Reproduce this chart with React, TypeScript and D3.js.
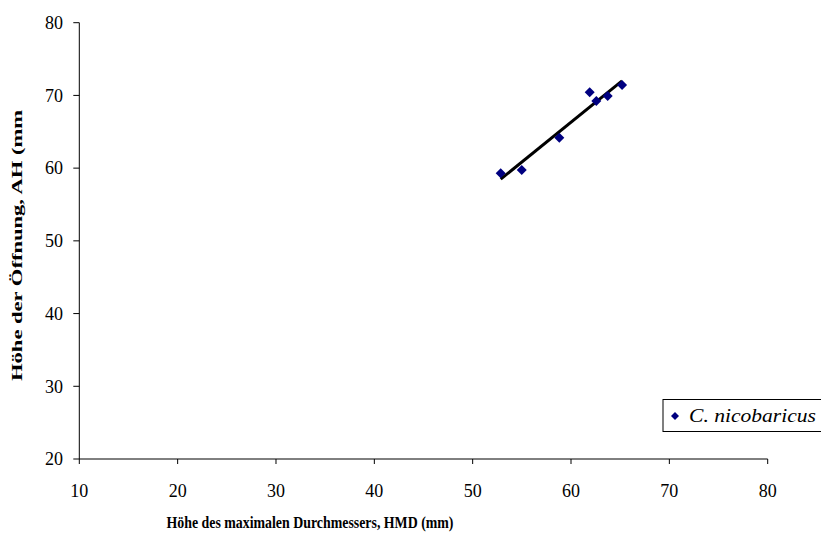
import React from "react";
import * as d3 from "d3";

const hmd = [52.85, 54.99, 58.81, 61.9, 62.57, 63.73, 65.19];
const ah = [59.29, 59.74, 64.18, 70.43, 69.23, 69.92, 71.43];
const xTicks = [10, 20, 30, 40, 50, 60, 70, 80];
const yTicks = [20, 30, 40, 50, 60, 70, 80];
const seriesName = "C. nicobaricus";
const xTitle = "Höhe des maximalen Durchmessers, HMD  (mm)";
const yTitle = "Höhe der Öffnung, AH (mm";

export default function App() {
  const W = 821, H = 538;
  const x = d3.scaleLinear().domain([10, 80]).range([79.3, 767.7]);
  const y = d3.scaleLinear().domain([20, 80]).range([459, 22.7]);
  const ts: React.CSSProperties = { fontFamily: "'Liberation Serif', 'Times New Roman', serif" };

  const mx = d3.mean(hmd)!, my = d3.mean(ah)!;
  let sxy = 0, sxx = 0;
  hmd.forEach((v, i) => { sxy += (v - mx) * (ah[i] - my); sxx += (v - mx) ** 2; });
  const slope = sxy / sxx, icpt = my - slope * mx;
  const [x0, x1] = d3.extent(hmd) as [number, number];
  const line = d3.line<number>().x(d => x(d)).y(d => y(icpt + slope * d));

  const diamond = (cx: number, cy: number, r: number) =>
    `M${cx},${cy - r}L${cx + r},${cy}L${cx},${cy + r}L${cx - r},${cy}Z`;

  return (
    <svg width={W} height={H} style={{ position: "absolute", left: 0, top: 0, background: "#fff" }}>
      <rect width={W} height={H} fill="#fff" />
      {/* axes */}
      <line x1={x(10)} x2={x(80)} y1={y(20)} y2={y(20)} stroke="#000" strokeWidth={1} />
      <line x1={x(10)} x2={x(10)} y1={y(20)} y2={y(80)} stroke="#000" strokeWidth={1} />
      {xTicks.map(t => (
        <g key={"x" + t}>
          <line x1={x(t)} x2={x(t)} y1={y(20)} y2={y(20) + 5} stroke="#000" />
          <text x={x(t)} y={496.5} textAnchor="middle" fontSize={18} style={ts}>{t}</text>
        </g>
      ))}
      {yTicks.map(t => (
        <g key={"y" + t}>
          <line x1={x(10) - 6} x2={x(10)} y1={y(t)} y2={y(t)} stroke="#000" />
          <text x={63} y={y(t) + 6.3} textAnchor="end" fontSize={18} style={ts}>{t}</text>
        </g>
      ))}
      {/* titles */}
      <text x={310} y={528} textAnchor="middle" fontSize={17} fontWeight="bold" style={ts} textLength={287} lengthAdjust="spacingAndGlyphs">{xTitle}</text>
      <text transform={`translate(22,245.5) rotate(-90)`} textAnchor="middle" fontSize={15.5} fontWeight="bold" style={ts} textLength={271} lengthAdjust="spacingAndGlyphs">{yTitle}</text>
      {/* trend line */}
      <path d={line([x0, x1]) || ""} stroke="#000" strokeWidth={3} fill="none" />
      {/* points */}
      {hmd.map((v, i) => (
        <path key={i} d={diamond(x(v), y(ah[i]), 5)} fill="#000080" />
      ))}
      {/* legend */}
      <rect x={663} y={399.5} width={170} height={32} fill="#fff" stroke="#000" strokeWidth={1} />
      <path d={diamond(675, 416, 4)} fill="#000080" />
      <text x={689} y={421.5} fontSize={18} fontStyle="italic" style={ts} textLength={127} lengthAdjust="spacingAndGlyphs">{seriesName}</text>
    </svg>
  );
}
